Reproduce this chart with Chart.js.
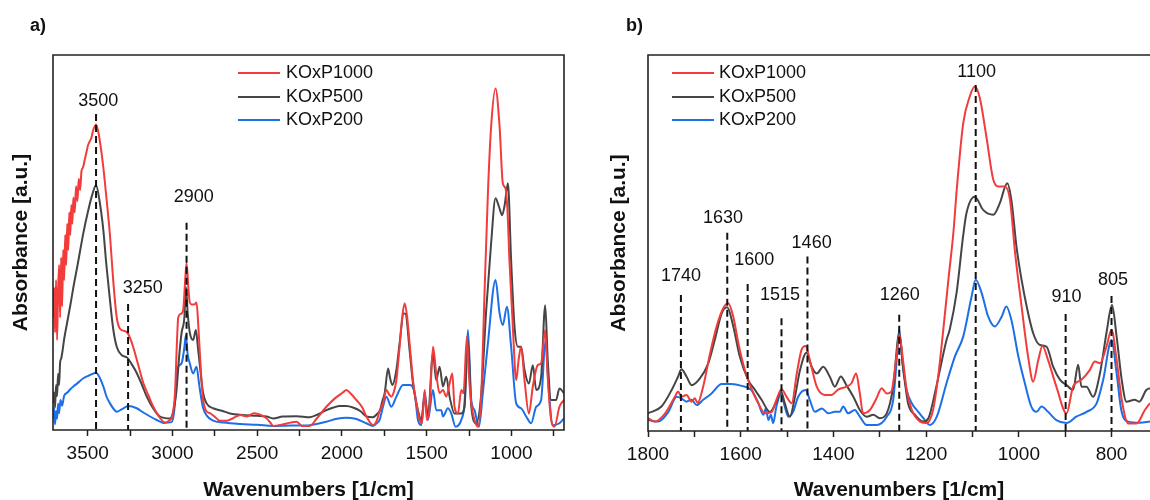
<!DOCTYPE html>
<html>
<head>
<meta charset="utf-8">
<script src="https://cdn.jsdelivr.net/npm/chart.js@4.4.1/dist/chart.umd.min.js"></script>
<style>
  body { margin: 0; background: #fff; }
  #wrap { position: relative; width: 1150px; height: 500px; overflow: hidden; }
  .panel { position: absolute; top: 0; height: 500px; }
  .tag { position: absolute; top: 15px; font: bold 18px 'Liberation Sans', Arial, sans-serif; color: #111; }
</style>
</head>
<body>
<div id="wrap">
  <div class="panel" style="left:0;width:575px"><canvas id="chartA"></canvas></div>
  <div class="panel" style="left:590px;width:560px"><canvas id="chartB"></canvas></div>
  <div class="tag" style="left:30px">a)</div>
  <div class="tag" style="left:626px">b)</div>
</div>
<script>
const FONT = "'Liberation Sans', Arial, sans-serif";

const seriesNames = ['KOxP1000', 'KOxP500', 'KOxP200'];

// panel a) full range, [wavenumber, absorbance]
const redA = [[3705,30],[3699,38],[3693,26],[3687,40],[3681,24],[3675,37],[3669,44],[3663,30],[3657,46],[3651,33],[3645,48],[3639,40],[3633,52],[3627,44],[3621,55],[3615,48],[3609,58],[3603,52],[3597,60],[3591,55],[3585,62],[3577,58],[3569,65],[3561,61],[3553,67],[3545,64],[3537,69],[3528,70],[3518,72],[3508,74],[3498,76],[3488,77],[3478,78],[3468,80],[3458,81],[3451,81.5],[3440,80],[3425,76],[3408,70],[3390,62],[3369,52],[3350,40],[3329,30],[3310,27],[3290,26.5],[3267,26],[3250,24.5],[3231,22],[3200,17],[3172,12.5],[3140,9],[3113,6.2],[3080,3.6],[3044,2],[3020,2.5],[3000,4],[2985,10],[2975,22],[2966,30],[2950,31],[2937,32],[2925,40],[2917,44.5],[2905,37],[2898,34],[2885,33.5],[2870,33.5],[2858,34],[2848,28],[2830,14],[2819,8],[2800,5],[2779,4.5],[2750,3.5],[2720,2.5],[2680,2.5],[2640,3.2],[2600,4],[2560,3.6],[2520,4.5],[2495,4.3],[2470,3.8],[2445,3.1],[2420,1.8],[2406,1.1],[2350,1.5],[2300,2],[2268,2.2],[2250,1.6],[2239,1.1],[2190,1.1],[2150,3],[2092,6.2],[2040,8.5],[1995,10],[1974,10.7],[1950,9.8],[1915,8],[1880,6],[1856,3.6],[1817,1.3],[1795,2.5],[1778,5],[1758,7.1],[1738,10.7],[1722,9.5],[1709,8.9],[1695,10],[1679,13.3],[1660,22.2],[1645,30],[1630,33.8],[1615,30],[1601,23.1],[1581,13.3],[1561,7.1],[1542,2.7],[1528,1.8],[1512,10.7],[1499,2.7],[1483,6.2],[1463,22.2],[1444,15.1],[1424,9.8],[1404,10.7],[1385,8.9],[1365,12.4],[1349,15.1],[1336,6.2],[1316,4.4],[1296,10.7],[1283,9.8],[1263,24.9],[1250,14],[1237,7.1],[1218,2.7],[1198,0.9],[1178,9.8],[1159,36.4],[1139,63.1],[1120,80.9],[1094,91.1],[1070,80.9],[1051,65.8],[1035,64.4],[1023,58],[1012,45.3],[992,27.6],[972,13.3],[957,19],[943,22.2],[923,13.3],[897,4.4],[874,11.6],[845,17.3],[825,17.8],[801,26.7],[786,14.2],[766,2.7],[746,0.9],[717,6.2],[690,8]];
const grayA = [[3705,7],[3699,10],[3693,6],[3687,12],[3681,9],[3675,15],[3669,12],[3663,18],[3657,19],[3649,21],[3640,24],[3620,29],[3600,34],[3585,38],[3560,44],[3526,52.5],[3500,58],[3475,62.5],[3451,65.3],[3430,61],[3408,53.3],[3390,44],[3369,34.7],[3350,27],[3329,22.2],[3300,20],[3267,19.3],[3240,17.5],[3211,15.2],[3180,12],[3152,8.9],[3110,5.5],[3074,3.6],[3015,3.1],[2995,5],[2976,10.7],[2960,20],[2946,26],[2930,30],[2921,38.2],[2910,31],[2898,26],[2878,24],[2862,26.7],[2850,22],[2838,17],[2820,10],[2799,7.1],[2760,5.8],[2700,5],[2661,4.4],[2590,4],[2500,3.8],[2445,3.6],[2406,3.1],[2350,3.6],[2268,3.7],[2190,3.4],[2140,4.2],[2092,5.3],[2050,6],[2013,6.4],[1975,6.4],[1935,6],[1890,5],[1856,3.6],[1817,3.4],[1790,4.4],[1778,5],[1760,8],[1748,9.8],[1728,16.4],[1717,14],[1703,12],[1679,16],[1660,23.1],[1636,31.1],[1625,31],[1601,21.3],[1581,12.4],[1552,5.3],[1532,2.7],[1512,8.9],[1493,3.6],[1463,20.4],[1444,13.3],[1424,16.9],[1404,11.6],[1385,14.2],[1365,8.9],[1336,4.4],[1296,4.4],[1277,6.2],[1257,24],[1237,6.2],[1208,1.8],[1178,9.8],[1149,32],[1120,49.8],[1094,61.8],[1074,59.6],[1055,57.3],[1040,60],[1021,65.8],[1002,45.3],[982,27.6],[962,22.2],[943,22.2],[923,16],[897,12.4],[874,17.3],[854,10.7],[825,14.2],[801,33.3],[786,18.7],[766,8],[737,8],[717,11.1],[690,9.8]];
const blueA = [[3705,3],[3699,6],[3693,1.5],[3687,5],[3681,3],[3675,7],[3669,4.5],[3661,8],[3651,6.5],[3640,9],[3620,10],[3600,11],[3585,11.6],[3560,12.5],[3526,13.8],[3490,14.6],[3451,15.3],[3430,14],[3408,11.6],[3390,9],[3369,7.1],[3340,5.2],[3329,4.9],[3300,5.5],[3261,6.4],[3211,5.8],[3170,4.6],[3132,3.6],[3090,2.6],[3054,1.9],[3005,2.1],[2990,5],[2975,14],[2966,16.9],[2946,17.8],[2930,22],[2921,25.3],[2910,20],[2898,17.8],[2878,15.1],[2858,16.9],[2845,13],[2838,10.7],[2820,6],[2799,3.9],[2760,2.5],[2700,2],[2600,1.6],[2500,1.4],[2406,1.1],[2300,1.2],[2190,1.3],[2092,2.2],[2030,3],[1974,3.3],[1920,3],[1856,1.8],[1817,1.1],[1790,2],[1778,2.7],[1758,6.2],[1738,8.9],[1709,6.2],[1679,8.9],[1640,12],[1601,12],[1571,9.8],[1552,2.7],[1532,1.3],[1512,10.2],[1493,2.7],[1463,10.7],[1444,5.3],[1414,5.3],[1404,3.6],[1375,5.8],[1355,4.4],[1330,0.9],[1296,2.7],[1277,7.1],[1257,26.7],[1237,8],[1218,5.3],[1192,0.9],[1169,9.8],[1139,23.1],[1094,40],[1070,31.1],[1051,28],[1027,32.9],[1002,22.2],[972,7.1],[943,5.8],[913,3.6],[884,1.8],[854,6.2],[825,8],[799,24],[780,10.7],[756,1.3],[717,1.8],[690,3.1]];

// panel b) fingerprint region
const redB = [[1800,3.4],[1785,2.5],[1763,4.7],[1742,9.1],[1735,10.5],[1728,9.1],[1717,9.6],[1706,7.8],[1699,8.7],[1693,7.5],[1681,11.8],[1666,20.7],[1652,27.8],[1638,32.6],[1627,34],[1616,30.4],[1605,23.3],[1591,16.2],[1577,11.3],[1562,7.4],[1548,4.7],[1533,5.1],[1523,8.3],[1512,11.1],[1501,9.1],[1490,7.4],[1479,15.3],[1469,21.5],[1460,22.6],[1451,18.9],[1436,11.8],[1418,9.6],[1404,9.6],[1390,11],[1372,11.8],[1361,12.7],[1351,15.3],[1343,10],[1336,4.7],[1321,5.6],[1307,8.7],[1296,11.4],[1285,10],[1275,10.5],[1264,19.8],[1258,25.5],[1249,18],[1242,10.9],[1231,5.6],[1213,2.5],[1199,2.1],[1185,5.6],[1174,14.5],[1163,26.9],[1152,40.2],[1141,53],[1134,64.1],[1120,81.8],[1106,88.9],[1095,91.6],[1084,88.5],[1070,78.3],[1055,66.8],[1044,65],[1030,65],[1019,61.4],[1008,47.3],[994,33.1],[980,19.8],[969,13.1],[958,18.9],[949,22.6],[937,18.9],[919,11.8],[897,4.7],[883,11.8],[865,13.6],[847,16.2],[836,18.5],[825,18],[811,22.4],[800,26.9],[789,18.9],[778,8.3],[764,2],[746,2],[728,5.6],[717,7.4]];
const grayB = [[1800,4.7],[1771,6.5],[1749,10.9],[1735,14.5],[1728,16.4],[1717,14.5],[1706,12.2],[1688,14],[1670,18],[1656,24.2],[1641,31.3],[1629,32.9],[1616,27.8],[1602,19.8],[1584,13.6],[1569,10.9],[1555,8.3],[1537,5.1],[1523,7.8],[1513,10.5],[1505,7.4],[1494,3.8],[1483,9.1],[1472,16.2],[1458,20.8],[1447,17.1],[1436,15.3],[1422,17.1],[1408,14.5],[1397,11.8],[1384,14.5],[1372,12.2],[1357,9.1],[1343,5.6],[1328,3.8],[1314,4.3],[1300,3.4],[1285,4.7],[1271,11.8],[1258,26],[1249,16.2],[1239,7.4],[1224,4.3],[1206,2.5],[1195,3.4],[1178,11.8],[1156,24.2],[1149,27],[1134,37],[1120,52],[1113,57.9],[1095,62.3],[1077,58.8],[1055,57.5],[1041,60.6],[1025,65.9],[1016,61.4],[1005,49],[994,40.2],[983,33.1],[969,26],[955,22.9],[940,22.4],[926,17.1],[911,13.6],[897,12.2],[883,10.9],[872,17.6],[865,11.8],[854,11.8],[840,9.1],[825,15.3],[811,26],[799,33.5],[789,25.1],[778,13.6],[768,7.8],[750,8.3],[740,7.8],[725,10.9],[717,11.4]];
const blueB = [[1800,2.9],[1778,2.5],[1756,5.1],[1738,9.1],[1728,8.7],[1717,7.8],[1706,8.3],[1695,6.9],[1681,8.3],[1663,10],[1641,12.5],[1620,12.5],[1598,12],[1577,10.9],[1562,7.4],[1551,4.3],[1546,6],[1540,2.9],[1535,4.3],[1530,2.1],[1523,6.5],[1513,10],[1505,6.5],[1497,3.8],[1487,5.1],[1476,9.1],[1460,10.9],[1451,8.3],[1440,5.1],[1425,6],[1411,4.7],[1397,5.1],[1386,5.1],[1379,6.5],[1368,4.7],[1354,5.6],[1343,3.8],[1328,1.6],[1307,1.6],[1285,3.8],[1271,8.3],[1264,18],[1258,26.9],[1251,18],[1242,10.9],[1231,7.4],[1217,5.1],[1206,3.4],[1192,1.6],[1177,3.8],[1156,12.7],[1138,19.8],[1120,25.1],[1102,35.7],[1093,40.2],[1080,36.6],[1066,30.4],[1052,27.8],[1037,30.4],[1027,33.1],[1016,29.5],[1001,19.8],[987,12.7],[973,6.5],[962,5.1],[951,6.5],[937,5.1],[919,2.9],[897,2.1],[876,3.8],[854,5.1],[832,7.4],[818,13.6],[800,24.2],[789,15.3],[779,5.6],[764,2.5],[739,2.2],[717,2.5]];

// axis ticks
const majorTicksA = [3500, 3000, 2500, 2000, 1500, 1000];
const minorTicksA = [3250, 2750, 2250, 1750, 1250, 750];
const majorTicksB = [1800, 1600, 1400, 1200, 1000, 800];
const minorTicksB = [1700, 1500, 1300, 1100, 900];

// band markers: line position, top of dashed line, label text, label anchor
const peakPosA = [3451, 3262, 2917];
const peakTopA = [84.3, 33.6, 55.3];
const peakTextA = ['3500', '3250', '2900'];
const peakLabelXA = [3438, 3176, 2874];
const peakLabelYA = [87.7, 37.9, 62.2];

const peakPosB = [1729, 1629, 1585, 1512, 1456, 1258, 1093, 899, 800];
const peakTopB = [36.2, 52.7, 39.1, 30, 46.4, 30.9, 92, 31.1, 35.9];
const peakTextB = ['1740', '1630', '1600', '1515', '1460', '1260', '1100', '910', '805'];
const peakLabelXB = [1729, 1638, 1571, 1515, 1447, 1257, 1091, 897, 797];
const peakLabelYB = [41.2, 56.6, 45.5, 36.2, 50.1, 36.2, 95.6, 35.7, 40.2];

const colors = ['#f23b3b', '#454545', '#1c6fe6'];

const peakMarks = {
    id: 'peaks',
    afterDatasetsDraw(chart, args, opts) {
        const { ctx, chartArea, scales: { x, y } } = chart;
        ctx.save();
        ctx.strokeStyle = '#111';
        ctx.lineWidth = 2;
        ctx.setLineDash([7, 4]);
        opts.pos.forEach((w, i) => {
            const px = x.getPixelForValue(w);
            ctx.beginPath();
            ctx.moveTo(px, y.getPixelForValue(opts.top[i]));
            ctx.lineTo(px, chartArea.bottom);
            ctx.stroke();
        });
        ctx.setLineDash([]);
        ctx.fillStyle = '#111';
        ctx.font = '18px ' + FONT;
        ctx.textAlign = 'center';
        ctx.textBaseline = 'middle';
        opts.text.forEach((t, i) => {
            ctx.fillText(t, x.getPixelForValue(opts.lx[i]), y.getPixelForValue(opts.ly[i]));
        });
        ctx.restore();
    }
};

const frameAndKey = {
    id: 'frameKey',
    afterDraw(chart, args, opts) {
        const { ctx, chartArea: a } = chart;
        ctx.save();
        ctx.strokeStyle = '#222';
        ctx.lineWidth = 1.6;
        ctx.beginPath();
        if (opts.closed) {
            ctx.rect(a.left, a.top, a.right - a.left, a.bottom - a.top);
        } else {
            ctx.moveTo(a.right + 5, a.top);
            ctx.lineTo(a.left, a.top);
            ctx.lineTo(a.left, a.bottom);
            ctx.lineTo(a.right + 5, a.bottom);
        }
        ctx.stroke();

        // legend
        ctx.font = '18px ' + FONT;
        ctx.textBaseline = 'middle';
        ctx.textAlign = 'left';
        chart.data.datasets.forEach((ds, i) => {
            const yy = opts.rows[i];
            ctx.strokeStyle = ds.borderColor;
            ctx.lineWidth = 2.2;
            ctx.beginPath();
            ctx.moveTo(opts.x1, yy);
            ctx.lineTo(opts.x2, yy);
            ctx.stroke();
            ctx.fillStyle = '#111';
            ctx.fillText(ds.label, opts.tx, yy);
        });
        ctx.restore();
    }
};

function toPoints(pairs) {
    return pairs.map(p => ({ x: p[0], y: p[1] }));
}

function makeChart(id, p) {
    const allTicks = p.major.concat(p.minor).sort((a, b) => b - a);
    return new Chart(document.getElementById(id), {
        type: 'line',
        data: {
            datasets: p.series.map((s, i) => ({
                label: seriesNames[i],
                data: toPoints(s),
                borderColor: colors[i],
                borderWidth: 2,
                pointRadius: 0,
                cubicInterpolationMode: 'monotone',
                fill: false,
                order: i
            }))
        },
        options: {
            responsive: true,
            maintainAspectRatio: false,
            animation: false,
            layout: { padding: { top: 55, right: p.padRight, left: 0, bottom: 0 } },
            scales: {
                x: {
                    type: 'linear',
                    reverse: true,
                    min: p.xmin,
                    max: p.xmax,
                    afterBuildTicks: (scale) => {
                        scale.ticks = allTicks.map(v => ({ value: v }));
                    },
                    afterFit: (scale) => { scale.height = p.xAxisH; },
                    ticks: {
                        autoSkip: false,
                        maxRotation: 0,
                        padding: 6,
                        color: '#111',
                        font: { family: FONT, size: 19 },
                        callback: (v) => p.major.includes(v) ? String(v) : ''
                    },
                    grid: {
                        drawOnChartArea: false,
                        drawTicks: true,
                        tickLength: 6,
                        tickColor: '#222',
                        tickWidth: 1.5
                    },
                    border: { display: false },
                    title: {
                        display: true,
                        text: 'Wavenumbers [1/cm]',
                        color: '#111',
                        padding: 0,
                        font: { family: FONT, size: 21, weight: 'bold', lineHeight: 0.95 }
                    }
                },
                y: {
                    min: 0,
                    max: 100,
                    afterFit: (scale) => { scale.width = p.yAxisW; },
                    ticks: { display: false },
                    grid: { drawOnChartArea: false, drawTicks: false },
                    border: { display: false },
                    title: {
                        display: true,
                        text: 'Absorbance [a.u.]',
                        color: '#111',
                        padding: 0,
                        font: { family: FONT, size: 21, weight: 'bold', lineHeight: p.yTitleLH }
                    }
                }
            },
            plugins: {
                legend: { display: false },
                tooltip: { enabled: false },
                peaks: p.peaks,
                frameKey: p.key
            }
        },
        plugins: [peakMarks, frameAndKey]
    });
}

document.addEventListener('DOMContentLoaded', function() {
    makeChart('chartA', {
        series: [redA, grayA, blueA],
        major: majorTicksA,
        minor: minorTicksA,
        xmin: 690,
        xmax: 3705,
        padRight: 11,
        xAxisH: 70,
        yAxisW: 53,
        yTitleLH: 2,
        peaks: { pos: peakPosA, top: peakTopA, text: peakTextA, lx: peakLabelXA, ly: peakLabelYA },
        key: { closed: true, x1: 238, x2: 280, tx: 286, rows: [73, 97, 120] }
    });

    makeChart('chartB', {
        series: [redB, grayB, blueB],
        major: majorTicksB,
        minor: minorTicksB,
        xmin: 717,
        xmax: 1800,
        padRight: 0,
        xAxisH: 69,
        yAxisW: 58,
        yTitleLH: 2.76,
        peaks: { pos: peakPosB, top: peakTopB, text: peakTextB, lx: peakLabelXB, ly: peakLabelYB },
        key: { closed: false, x1: 82, x2: 124, tx: 129, rows: [73, 97, 120] }
    });
});
</script>
</body>
</html>
